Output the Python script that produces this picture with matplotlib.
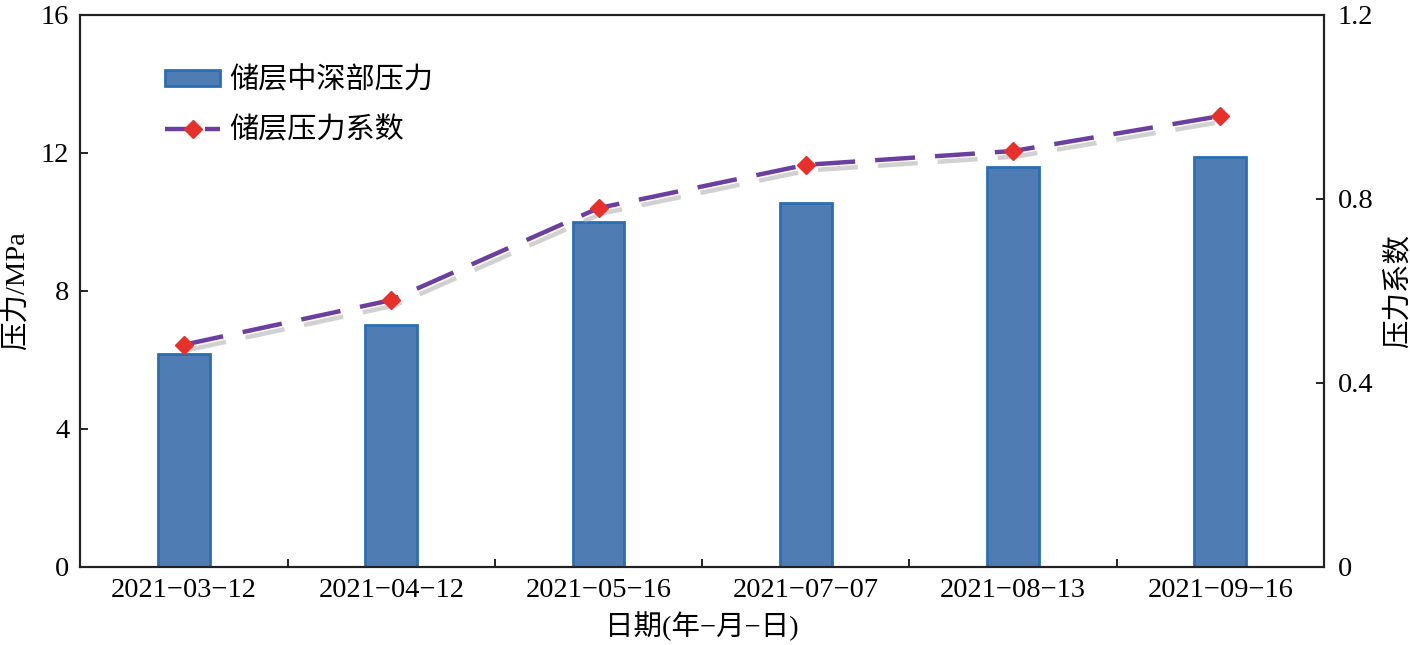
import matplotlib.pyplot as plt
import matplotlib.patheffects as pe
from matplotlib.lines import Line2D
import numpy as np

# data
dates = ['2021−03−12', '2021−04−12', '2021−05−16', '2021−07−07', '2021−08−13', '2021−09−16']
pressure = [6.17, 7.01, 10.0, 10.55, 11.59, 11.88]        # MPa, left axis
coef = [0.483, 0.580, 0.780, 0.874, 0.904, 0.980]          # right axis

fonts = ['Liberation Serif', 'Noto Sans CJK SC']
plt.rcParams['font.family'] = fonts
plt.rcParams['font.size'] = 20.5
plt.rcParams['axes.unicode_minus'] = True

x = np.arange(len(dates))
purple = '#6B3FA0'
red = '#E8302A'
dash = (0, (9, 4.5))

fig, ax = plt.subplots(figsize=(14.1, 6.45), dpi=100)
fig.subplots_adjust(left=0.057, right=0.939, top=0.977, bottom=0.121)

bars = ax.bar(x, pressure, width=0.25, color='#4F7DB3', edgecolor='#2A6EB5',
              linewidth=2, zorder=2)
ax.set_xlim(-0.5, len(dates) - 0.5)
ax.set_ylim(0, 16)
ax.set_yticks([0, 4, 8, 12, 16])
ax.set_xticks(x)
ax.set_xticklabels(dates)
ax.set_xticks(x[:-1] + 0.5, minor=True)
ax.tick_params(axis='x', which='major', length=0, pad=8)
ax.tick_params(axis='x', which='minor', direction='in', length=6, width=1.2)
ax.tick_params(axis='y', direction='in', length=6, width=1.2, pad=8)
ax.set_xlabel('日期(年−月−日)', labelpad=6)
ax.set_ylabel('压力/MPa', labelpad=8)
for s in ax.spines.values():
    s.set_linewidth(1.5)
    s.set_color('#222222')

ax2 = ax.twinx()
# dashed line with a soft grey shadow, markers drawn on top without shadow
ax2.plot(x, coef, color=purple, linewidth=3.2, linestyle=dash, zorder=3,
         path_effects=[pe.SimpleLineShadow(offset=(2, -4), shadow_color='#9a9a9a', alpha=0.45),
                       pe.Normal()])
ax2.plot(x, coef, linestyle='none', marker='D', markersize=9,
         markerfacecolor=red, markeredgecolor=red, zorder=4)
ax2.set_ylim(0, 1.2)
ax2.set_yticks([0, 0.4, 0.8, 1.2])
ax2.set_yticklabels(['0', '0.4', '0.8', '1.2'])
ax2.tick_params(axis='y', direction='in', length=6, width=1.2, pad=10)
ax2.set_ylabel('压力系数', labelpad=8)
for s in ax2.spines.values():
    s.set_linewidth(1.5)
    s.set_color('#222222')

line_handle = Line2D([], [], color=purple, linewidth=3.2, linestyle=(0, (6, 3)),
                     marker='D', markersize=9, markerfacecolor=red, markeredgecolor=red)
ax.legend([bars, line_handle], ['储层中深部压力', '储层压力系数'], loc='upper left',
          bbox_to_anchor=(0.068, 0.905), frameon=False, borderpad=0, borderaxespad=0,
          handlelength=1.9, handleheight=0.45, handletextpad=0.3,
          labelspacing=0.75, fontsize=21)

plt.savefig('out.png', dpi=100)
